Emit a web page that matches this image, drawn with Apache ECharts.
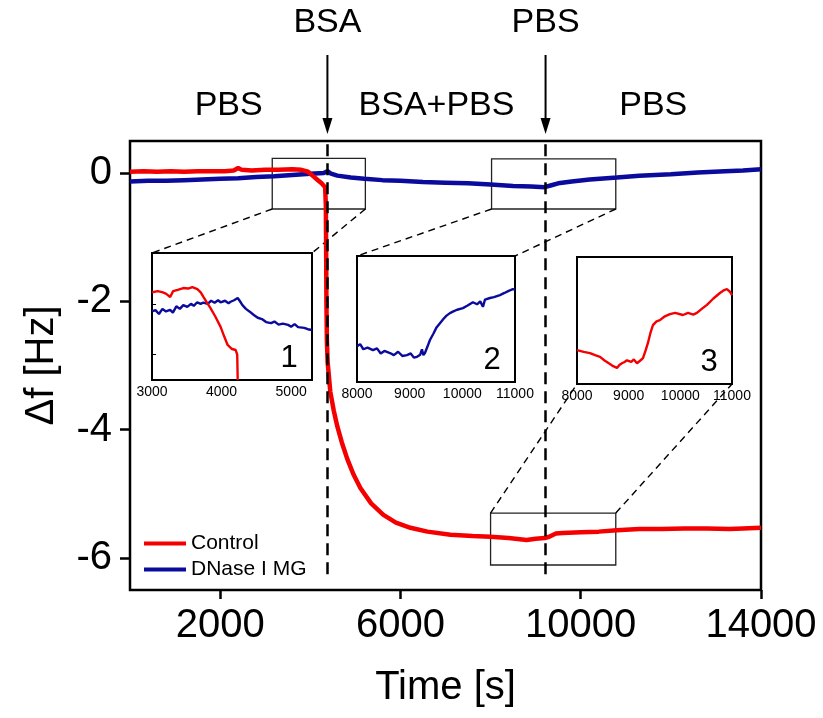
<!DOCTYPE html>
<html>
<head>
<meta charset="utf-8">
<title>QCM frequency shift</title>
<script src="https://cdn.jsdelivr.net/npm/echarts/dist/echarts.min.js"></script>
<style>
  html, body { margin: 0; padding: 0; background: #fff; }
  #main { width: 823px; height: 718px; }
</style>
</head>
<body>
<div id="main"></div>
<script>
  // main traces, [time s, delta f Hz]
  var controlMain = [
    [0, 0.02], [300, 0.03], [600, 0.02], [900, 0.03], [1200, 0.02], [1500, 0.03], [1800, 0.03],
    [2100, 0.03], [2300, 0.04], [2400, 0.08], [2480, 0.05], [2700, 0.04], [3000, 0.05], [3300, 0.05],
    [3600, 0.06], [3800, 0.05], [3950, 0.02], [4050, -0.04], [4150, -0.1], [4250, -0.16], [4330, -0.22],
    [4345, -0.5], [4352, -1.2], [4358, -2.0], [4368, -2.6], [4385, -2.95], [4444, -3.41], [4520, -3.7],
    [4600, -3.95], [4700, -4.2], [4822, -4.46], [4960, -4.7], [5111, -4.91], [5350, -5.15], [5622, -5.33],
    [5900, -5.45], [6222, -5.53], [6600, -5.59], [7111, -5.64], [7600, -5.66], [8000, -5.67], [8400, -5.69],
    [8800, -5.72], [9000, -5.70], [9200, -5.69], [9300, -5.67], [9450, -5.62], [9600, -5.61], [10000, -5.60],
    [10400, -5.59], [10800, -5.57], [11300, -5.55], [11800, -5.55], [12300, -5.54], [12800, -5.54],
    [13300, -5.55], [13600, -5.54], [14000, -5.53]
  ]
  var dnaseMain = [
    [0, -0.13], [400, -0.12], [800, -0.12], [1200, -0.11], [1600, -0.10], [2000, -0.09], [2400, -0.08],
    [2800, -0.06], [3200, -0.05], [3600, -0.03], [4000, -0.01], [4300, 0.0], [4380, 0.03], [4460, -0.01],
    [4600, -0.04], [4900, -0.07], [5200, -0.09], [5600, -0.11], [6000, -0.12], [6500, -0.14], [7000, -0.15],
    [7500, -0.16], [8000, -0.18], [8500, -0.2], [8900, -0.21], [9200, -0.22], [9350, -0.19], [9500, -0.16],
    [9800, -0.13], [10200, -0.10], [10800, -0.07], [11300, -0.04], [12000, -0.02], [12600, 0.01],
    [13200, 0.03], [13600, 0.04], [14000, 0.06]
  ]

  // zoomed traces
  var inset1Control = [
    [3000, 0.045], [3014, 0.043], [3080, 0.05], [3145, 0.046], [3200, 0.04], [3261, 0.027], [3304, 0.05],
    [3370, 0.055], [3449, 0.062], [3520, 0.06], [3580, 0.066], [3652, 0.058], [3700, 0.045], [3739, 0.027],
    [3790, 0.005], [3841, -0.017], [3910, -0.05], [3986, -0.091], [4040, -0.13], [4087, -0.162],
    [4150, -0.178], [4203, -0.182], [4225, -0.2], [4232, -0.3]
  ]
  var inset1Dnase = [
    [3000, -0.03], [3050, -0.025], [3100, -0.04], [3150, -0.02], [3200, -0.03], [3261, -0.024], [3300, -0.035],
    [3350, -0.01], [3400, -0.02], [3450, -0.005], [3507, -0.012], [3560, 0.0], [3600, -0.008], [3650, 0.006],
    [3700, 0.0], [3739, 0.005], [3800, 0.0], [3850, 0.012], [3900, 0.004], [3950, 0.014], [3986, 0.006],
    [4050, 0.012], [4100, 0.002], [4130, 0.008], [4180, 0.014], [4232, 0.023], [4260, 0.012], [4300, -0.005],
    [4350, -0.02], [4400, -0.03], [4464, -0.044], [4520, -0.055], [4580, -0.06], [4640, -0.072], [4710, -0.076],
    [4760, -0.07], [4820, -0.082], [4880, -0.078], [4957, -0.083], [5000, -0.09], [5050, -0.08], [5100, -0.092],
    [5188, -0.095], [5240, -0.1], [5300, -0.103]
  ]
  var inset2Dnase = [
    [8000, -0.215], [8060, -0.21], [8120, -0.222], [8200, -0.218], [8304, -0.224], [8380, -0.22], [8450, -0.232],
    [8520, -0.226], [8626, -0.231], [8700, -0.236], [8780, -0.228], [8860, -0.238], [8949, -0.236], [9020, -0.232],
    [9080, -0.242], [9139, -0.24], [9200, -0.235], [9233, -0.222], [9260, -0.236], [9290, -0.231], [9340, -0.215],
    [9385, -0.2], [9450, -0.185], [9510, -0.17], [9575, -0.16], [9640, -0.15], [9700, -0.142], [9765, -0.136],
    [9830, -0.132], [9900, -0.128], [10011, -0.124], [10100, -0.118], [10201, -0.11], [10280, -0.115],
    [10340, -0.108], [10391, -0.121], [10430, -0.104], [10524, -0.1], [10600, -0.098], [10714, -0.093],
    [10800, -0.088], [10880, -0.083], [10960, -0.079], [11000, -0.08]
  ]
  var inset3Control = [
    [8000, -5.72], [8019, -5.72], [8130, -5.724], [8251, -5.727], [8350, -5.732], [8445, -5.736], [8540, -5.745],
    [8638, -5.753], [8700, -5.758], [8774, -5.762], [8820, -5.755], [8870, -5.751], [8920, -5.748], [8967, -5.744],
    [9050, -5.748], [9100, -5.742], [9161, -5.751], [9220, -5.745], [9277, -5.739], [9330, -5.72], [9373, -5.703],
    [9420, -5.68], [9470, -5.661], [9540, -5.652], [9605, -5.649], [9700, -5.64], [9799, -5.635], [9900, -5.632],
    [10050, -5.637], [10150, -5.632], [10250, -5.636], [10321, -5.632], [10420, -5.622], [10515, -5.613],
    [10640, -5.598], [10766, -5.585], [10850, -5.578], [10901, -5.576], [10960, -5.582], [11000, -5.59]
  ]

  var xTicks = [2000, 6000, 10000, 14000]
  var yTicks = [0, -2, -4, -6]
  var injectTimes = [4380, 9220]
  var injectLabels = ['BSA', 'PBS']
  var phaseLabels = ['PBS', 'BSA+PBS', 'PBS']
  // [x0, x1, yTop, yBottom] of the zoomed regions in main plot
  var zoomBoxes = [[3156, 5222, 0.23, -0.56], [8022, 10778, 0.22, -0.56], [8000, 10778, -5.3, -6.11]]
  var insetRanges = [
    {xmin: 3000, xmax: 5300, ymin: -0.3, ymax: 0.2},
    {xmin: 8000, xmax: 11000, ymin: -0.3, ymax: 0},
    {xmin: 8000, xmax: 11000, ymin: -5.8, ymax: -5.5}
  ]

  var RED = '#f50000'
  var BLUE = '#0a0a9c'
  var FONT = '"Liberation Sans", Arial, sans-serif'

  // plain numbers, no thousands separator
  function plain(v) {
    return String(v)
  }

  var chart = echarts.init(document.getElementById('main'))

  function insetX(i) {
    var r = insetRanges[i]
    return {
      type: 'value', gridIndex: i + 1, min: r.xmin, max: r.xmax, interval: 1000,
      axisLine: {show: false, onZero: false},
      axisTick: {show: false},
      splitLine: {show: false},
      axisLabel: {color: '#000', fontSize: 14, margin: 5, showMaxLabel: i > 0, hideOverlap: false, formatter: plain}
    }
  }
  function insetY(i) {
    var r = insetRanges[i]
    var y = {
      type: 'value', gridIndex: i + 1, min: r.ymin, max: r.ymax,
      axisLine: {show: false, onZero: false},
      axisTick: {show: false},
      splitLine: {show: false},
      axisLabel: {show: false}
    }
    if (i === 0) {
      y.axisTick = {show: true, inside: true, length: 4, customValues: [-0.2, 0], lineStyle: {color: '#000'}}
    }
    return y
  }

  var markLineData = []
  for (var i = 0; i < injectTimes.length; i++) {
    markLineData.push([{coord: [injectTimes[i], 0.45]}, {coord: [injectTimes[i], -6.35]}])
  }
  var markAreaData = []
  for (var i = 0; i < zoomBoxes.length; i++) {
    var b = zoomBoxes[i]
    markAreaData.push([{coord: [b[0], b[2]]}, {coord: [b[1], b[3]]}])
  }

  var insetGrid = {show: true, borderColor: '#000', borderWidth: 2, backgroundColor: '#fff'}

  chart.setOption({
    animation: false,
    textStyle: {fontFamily: FONT},
    grid: [
      {left: 130, top: 141, width: 631, height: 449, show: true, borderColor: '#000', borderWidth: 2.5},
      Object.assign({left: 152, top: 253, width: 160, height: 127}, insetGrid),
      Object.assign({left: 357, top: 256, width: 158, height: 126}, insetGrid),
      Object.assign({left: 577, top: 257, width: 155, height: 127}, insetGrid)
    ],
    legend: {
      data: ['Control', 'DNase I MG'],
      orient: 'vertical',
      left: 139,
      top: 528,
      icon: 'rect',
      itemWidth: 42,
      itemHeight: 4,
      itemGap: 5,
      textStyle: {color: '#000', fontSize: 21, fontFamily: FONT},
      selectedMode: false
    },
    xAxis: [
      {
        type: 'value', gridIndex: 0, min: 0, max: 14000,
        name: 'Time [s]', nameLocation: 'middle', nameGap: 78,
        nameTextStyle: {color: '#000', fontSize: 40, fontFamily: FONT},
        axisLine: {show: false, onZero: false},
        axisTick: {show: true, length: 9, customValues: xTicks, lineStyle: {color: '#000', width: 2.5}},
        axisLabel: {customValues: xTicks, color: '#000', fontSize: 40, margin: 16, formatter: plain},
        splitLine: {show: false}
      },
      insetX(0), insetX(1), insetX(2)
    ],
    yAxis: [
      {
        type: 'value', gridIndex: 0, min: -6.5, max: 0.5,
        name: 'Δf [Hz]', nameLocation: 'middle', nameGap: 68,
        nameTextStyle: {color: '#000', fontSize: 40, fontFamily: FONT},
        axisLine: {show: false, onZero: false},
        axisTick: {show: true, length: 10, customValues: yTicks, lineStyle: {color: '#000', width: 2.5}},
        axisLabel: {customValues: yTicks, color: '#000', fontSize: 40, margin: 18, formatter: plain},
        splitLine: {show: false}
      },
      insetY(0), insetY(1), insetY(2)
    ],
    series: [
      {
        name: 'DNase I MG', type: 'line', xAxisIndex: 0, yAxisIndex: 0,
        data: dnaseMain, symbol: 'none', color: BLUE,
        lineStyle: {width: 4.5, color: BLUE},
        markArea: {
          silent: true,
          itemStyle: {color: 'rgba(0,0,0,0)', borderColor: '#222', borderWidth: 1.3},
          data: markAreaData
        }
      },
      {
        name: 'Control', type: 'line', xAxisIndex: 0, yAxisIndex: 0,
        data: controlMain, symbol: 'none', color: RED,
        lineStyle: {width: 4.5, color: RED},
        markLine: {
          silent: true, symbol: ['none', 'none'], label: {show: false},
          lineStyle: {type: [12, 7], color: '#000', width: 2.5},
          data: markLineData
        }
      },
      {
        name: 'DNase I MG 1', type: 'line', xAxisIndex: 1, yAxisIndex: 1,
        data: inset1Dnase, symbol: 'none', lineStyle: {width: 2.4, color: BLUE}, color: BLUE
      },
      {
        name: 'Control 1', type: 'line', xAxisIndex: 1, yAxisIndex: 1,
        data: inset1Control, symbol: 'none', lineStyle: {width: 2.4, color: RED}, color: RED
      },
      {
        name: 'DNase I MG 2', type: 'line', xAxisIndex: 2, yAxisIndex: 2,
        data: inset2Dnase, symbol: 'none', lineStyle: {width: 2.4, color: BLUE}, color: BLUE
      },
      {
        name: 'Control 3', type: 'line', xAxisIndex: 3, yAxisIndex: 3,
        data: inset3Control, symbol: 'none', lineStyle: {width: 2.4, color: RED}, color: RED
      }
    ]
  })

  // annotations placed from the axes
  function px(grid, x, y) {
    return chart.convertToPixel({gridIndex: grid}, [x, y])
  }
  var graphic = []
  var dash = {stroke: '#000', lineWidth: 1.4, lineDash: [7, 5]}

  // dashed connectors box -> inset
  for (var i = 0; i < zoomBoxes.length; i++) {
    var b = zoomBoxes[i]
    var r = insetRanges[i]
    var a1, a2, c1, c2
    if (i < 2) {
      a1 = px(0, b[0], b[3]); a2 = px(0, b[1], b[3])
      c1 = px(i + 1, r.xmin, r.ymax); c2 = px(i + 1, r.xmax, r.ymax)
    } else {
      a1 = px(0, b[0], b[2]); a2 = px(0, b[1], b[2])
      c1 = px(i + 1, r.xmin, r.ymin); c2 = px(i + 1, r.xmax, r.ymin)
    }
    graphic.push({type: 'line', shape: {x1: a1[0], y1: a1[1], x2: c1[0], y2: c1[1]}, style: dash, z: 1})
    graphic.push({type: 'line', shape: {x1: a2[0], y1: a2[1], x2: c2[0], y2: c2[1]}, style: dash, z: 1})
    // number in the corner of the inset
    var n = px(i + 1, r.xmax, r.ymin)
    graphic.push({
      type: 'text', x: n[0] - 23, y: n[1] - 22, z: 10,
      style: {text: String(i + 1), fontSize: 31, fontFamily: FONT, fill: '#000', align: 'center', verticalAlign: 'middle'}
    })
  }

  // injection arrows and labels
  for (var i = 0; i < injectTimes.length; i++) {
    var ax = px(0, injectTimes[i], 0)[0]
    graphic.push({type: 'line', shape: {x1: ax, y1: 55, x2: ax, y2: 124}, style: {stroke: '#000', lineWidth: 2}})
    graphic.push({type: 'polygon', shape: {points: [[ax - 5, 118], [ax + 5, 118], [ax, 134]]}, style: {fill: '#000'}})
    graphic.push({
      type: 'text', x: ax, y: 23,
      style: {text: injectLabels[i], fontSize: 34, fontFamily: FONT, fill: '#000', align: 'center', verticalAlign: 'middle'}
    })
  }
  var bounds = [0, injectTimes[0], injectTimes[1], 14000]
  for (var i = 0; i < phaseLabels.length; i++) {
    var cx = px(0, (bounds[i] + bounds[i + 1]) / 2, 0)[0]
    graphic.push({
      type: 'text', x: cx, y: 106,
      style: {text: phaseLabels[i], fontSize: 34, fontFamily: FONT, fill: '#000', align: 'center', verticalAlign: 'middle'}
    })
  }

  chart.setOption({graphic: graphic})
</script>
</body>
</html>
